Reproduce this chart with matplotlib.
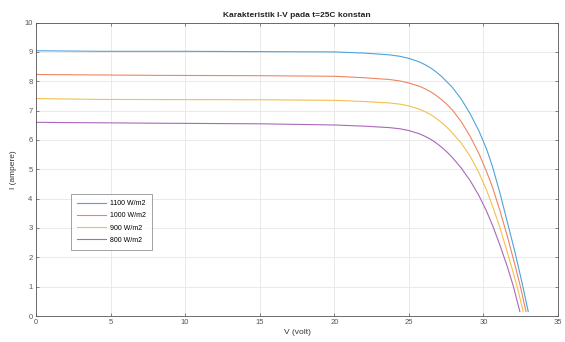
import matplotlib
matplotlib.use('Agg')
import matplotlib.pyplot as plt

plt.rcParams['font.family'] = ['Liberation Sans', 'DejaVu Sans']

# kurva I-V (V dalam volt, I dalam ampere)
v_1100 = [0, 4.4, 10, 15, 20, 22, 23.7, 24.4, 25, 25.7, 26.1, 26.5, 26.85, 27.2,
          27.55, 27.9, 28.5, 29.1, 29.7, 30.2, 30.6, 31.1, 31.6, 32.1, 32.6, 33.0]
i_1100 = [9.04, 9.02, 9.02, 9.01, 9.0, 8.96, 8.9, 8.85, 8.78, 8.66, 8.56, 8.44,
          8.31, 8.16, 7.98, 7.8, 7.4, 6.9, 6.3, 5.7, 5.1, 4.2, 3.2, 2.2, 1.1, 0.15]

v_1000 = [0, 8.3, 15, 20, 22, 23.7, 24.4, 25, 25.7, 26.1, 26.5, 26.85, 27.2,
          27.55, 27.9, 28.5, 29.1, 29.7, 30.2, 30.6, 31.1, 31.6, 32.1, 32.5, 32.85]
i_1000 = [8.23, 8.2, 8.19, 8.17, 8.12, 8.06, 8.01, 7.94, 7.83, 7.74, 7.63, 7.51,
          7.37, 7.21, 7.03, 6.63, 6.13, 5.53, 4.93, 4.4, 3.6, 2.72, 1.76, 0.95, 0.15]

v_900 = [0, 4.4, 15, 20, 22, 23.7, 24.4, 25, 25.7, 26.1, 26.5, 26.85, 27.2,
         27.55, 27.9, 28.5, 29.1, 29.7, 30.2, 30.6, 31.1, 31.6, 32.0, 32.35, 32.66]
i_900 = [7.41, 7.38, 7.37, 7.35, 7.31, 7.26, 7.22, 7.16, 7.05, 6.96, 6.85, 6.73,
         6.59, 6.43, 6.25, 5.9, 5.45, 4.88, 4.3, 3.76, 3.02, 2.17, 1.47, 0.81, 0.15]

v_800 = [0, 8.3, 15, 20, 22, 23.7, 24.4, 25, 25.7, 26.1, 26.5, 26.85, 27.2,
         27.55, 27.9, 28.5, 29.1, 29.7, 30.2, 30.6, 31.1, 31.6, 32.0, 32.44]
i_800 = [6.6, 6.57, 6.55, 6.51, 6.47, 6.42, 6.38, 6.32, 6.21, 6.12, 6.01, 5.89,
         5.75, 5.59, 5.41, 5.05, 4.62, 4.1, 3.58, 3.1, 2.42, 1.68, 1.02, 0.15]

labels = ['1100 W/m2', '1000 W/m2', '900 W/m2', '800 W/m2']
colors = ['#4da3de', '#ee8560', '#f3c14e', '#a968b8']

fig = plt.figure(figsize=(5.65, 3.42), dpi=100)
ax = fig.add_axes([0.0637, 0.076, 0.924, 0.858])

series = [(v_1100, i_1100), (v_1000, i_1000), (v_900, i_900), (v_800, i_800)]
for (v, i), lab, c in zip(series, labels, colors):
    ax.plot(v, i, color=c, lw=0.8, label=lab)

ax.set_xlim(0, 35)
ax.set_ylim(0, 10)
ax.set_xticks(range(0, 36, 5))
ax.set_yticks(range(0, 11))
ax.grid(True, color='#e6e6e6', lw=0.6)
ax.set_axisbelow(True)
ax.tick_params(direction='in', length=2.5, width=0.5, labelsize=5.5,
               colors='#555555', top=True, right=True, pad=2.5)
for s in ax.spines.values():
    s.set_color('#555555')
    s.set_linewidth(0.6)

ax.set_title('Karakteristik I-V pada t=25C konstan', fontsize=6, fontweight='bold',
             color='#222222', pad=4)
ax.set_xlabel('V (volt)', fontsize=6, color='#333333', labelpad=2)
ax.set_ylabel('I (ampere)', fontsize=6, color='#333333', labelpad=5)

leg = ax.legend(loc='lower left', bbox_to_anchor=(0.067, 0.225), fontsize=5,
                frameon=True, fancybox=False, handlelength=4.2,
                borderpad=0.9, labelspacing=0.75, handletextpad=0.5,
                borderaxespad=0)
leg.get_frame().set_edgecolor('#777777')
leg.get_frame().set_linewidth(0.6)

fig.savefig('out.png', dpi=100)
